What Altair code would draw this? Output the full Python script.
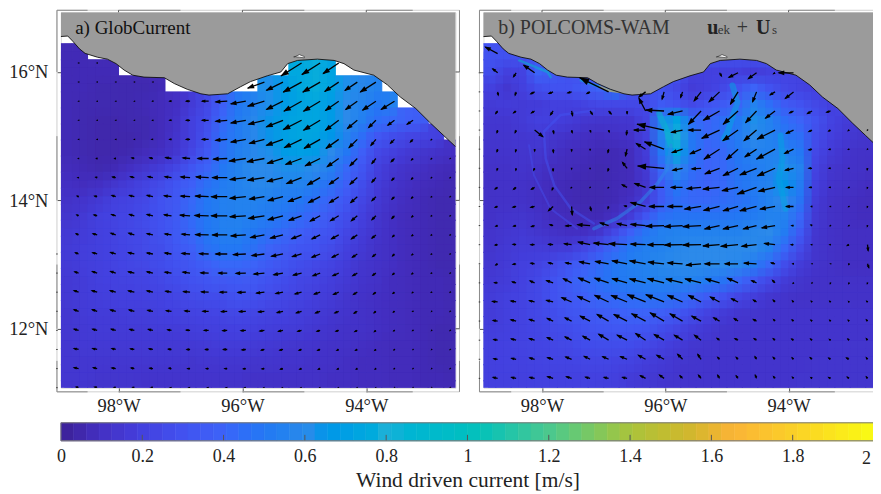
import math
import altair as alt
import pandas as pd

N = None
FONT = "Liberation Serif"
CB_TICKS = [0, .2, .4, .6, .8, 1, 1.2, 1.4, 1.6, 1.8, 2]
CB_STOPS = [0, .1, .2, .3, .4, .6, .8, 1, 1.2, 1.4, 1.55, 1.65, 1.8, 2]
CB_COLORS = ["#3b2196", "#4430c4", "#4340de", "#4252f0", "#3d63f8", "#2c8aea", "#1cb0d8", "#05bfc0", "#4bc88e", "#a9c33c", "#d2b72e", "#fab337", "#fad028", "#f8fb14"]

COAST_LON = [-98.96, -98.82, -98.74, -98.63, -98.54, -98.34, -98.18, -98.04, -97.91, -97.77, -97.59, -97.26, -97.10, -96.89, -96.67, -96.54, -96.24, -96.03, -95.87, -95.60, -95.38, -95.27, -95.11, -94.79, -94.52, -94.36, -94.20, -93.88, -93.66, -93.45, -93.20, -92.96, -92.75, -92.54]
COAST_LAT = [16.55, 16.56, 16.48, 16.36, 16.29, 16.23, 16.20, 16.13, 16.03, 15.95, 15.92, 15.91, 15.82, 15.73, 15.66, 15.64, 15.66, 15.77, 15.85, 15.94, 16.00, 16.13, 16.18, 16.20, 16.18, 16.13, 16.03, 15.95, 15.80, 15.61, 15.43, 15.20, 15.01, 14.82]

HEAT_A = [
[.07,.07,N,N,N,N,N,N,N,N,N,N,N,N,N,N,N,N,N,N,N,N,N,N,N,N],
[.07,.07,.07,.07,N,N,N,N,N,N,N,N,N,N,N,.75,.78,.72,N,N,N,N,N,N,N,N],
[.07,.07,.06,.06,.06,.06,.07,N,N,N,N,N,N,.62,.68,.75,.78,.72,.62,.58,.55,N,N,N,N,N],
[.07,.06,.06,.06,.06,.07,.08,.1,.17,.25,.38,.5,.55,.62,.68,.72,.74,.68,.6,.55,.5,.55,N,N,N,N],
[.07,.06,.05,.05,.06,.06,.08,.12,.2,.28,.42,.52,.58,.64,.7,.74,.74,.68,.6,.54,.45,.42,.38,.36,N,N],
[.07,.06,.05,.05,.05,.06,.08,.13,.2,.3,.45,.52,.58,.64,.7,.74,.72,.66,.56,.45,.33,.28,.24,.22,.2,N],
[.07,.06,.05,.05,.06,.08,.1,.15,.24,.34,.46,.54,.58,.62,.68,.7,.68,.6,.5,.38,.25,.2,.16,.14,.12,.1],
[.08,.07,.06,.07,.1,.14,.18,.24,.32,.4,.5,.56,.6,.6,.62,.62,.6,.54,.42,.32,.2,.15,.12,.1,.08,.07],
[.1,.09,.1,.14,.18,.22,.26,.32,.38,.46,.52,.56,.58,.58,.56,.56,.52,.46,.38,.28,.18,.13,.1,.08,.07,.06],
[.12,.13,.16,.2,.22,.25,.3,.34,.42,.5,.54,.56,.56,.54,.52,.5,.45,.4,.32,.24,.16,.11,.09,.07,.06,.06],
[.14,.16,.2,.22,.24,.27,.3,.35,.44,.5,.54,.56,.54,.52,.48,.44,.4,.34,.28,.2,.14,.1,.08,.07,.06,.06],
[.16,.18,.2,.22,.25,.26,.3,.35,.42,.5,.54,.54,.5,.46,.42,.38,.33,.3,.24,.18,.13,.1,.08,.07,.06,.06],
[.17,.19,.2,.22,.24,.26,.28,.33,.38,.46,.5,.5,.46,.4,.36,.32,.3,.26,.2,.16,.12,.1,.08,.07,.06,.06],
[.17,.19,.2,.22,.24,.25,.27,.3,.33,.38,.42,.42,.4,.35,.31,.28,.25,.22,.18,.14,.12,.1,.08,.07,.06,.06],
[.16,.18,.2,.21,.22,.23,.25,.27,.3,.32,.34,.35,.34,.3,.27,.24,.22,.19,.16,.13,.11,.09,.08,.07,.07,.06],
[.16,.18,.19,.2,.2,.21,.22,.24,.26,.27,.28,.3,.29,.26,.24,.22,.19,.17,.14,.12,.1,.09,.08,.07,.07,.06],
[.15,.17,.18,.18,.19,.19,.2,.21,.22,.23,.24,.25,.24,.22,.21,.19,.17,.15,.13,.11,.1,.09,.08,.07,.07,.06],
[.15,.16,.17,.17,.17,.17,.18,.18,.19,.2,.2,.21,.2,.19,.18,.17,.15,.13,.12,.11,.1,.09,.08,.07,.06,.06],
[.15,.16,.16,.16,.16,.16,.16,.16,.16,.17,.18,.18,.17,.16,.15,.14,.13,.12,.11,.1,.09,.08,.08,.07,.06,.06],
[.15,.15,.15,.15,.15,.15,.15,.15,.14,.15,.15,.15,.14,.14,.13,.13,.12,.11,.1,.09,.09,.08,.08,.07,.06,.06],
[.15,.15,.14,.14,.14,.13,.13,.13,.13,.13,.13,.13,.12,.12,.12,.11,.11,.1,.1,.09,.09,.08,.08,.07,.07,.06],
[.14,.14,.13,.13,.13,.12,.12,.12,.12,.12,.11,.11,.11,.11,.1,.1,.1,.09,.09,.09,.08,.08,.08,.07,.07,.07],
]

HEAT_B = [
[.3,.3,.3,.3,.3,.3,.3,.3,.3,.3,.3,.3,.3,.3,.3,.3,.3,.3,.3,.3,.3,.3,.3,.3,.3,.3],
[.28,.2,.22,.4,.35,.3,.3,.3,.3,.3,.3,.3,.3,.2,.2,.2,.2,.18,.2,.22,.22,.25,.3,.3,.3,.3],
[.2,.15,.2,.28,.3,.3,.35,.4,.5,.3,.3,.3,.25,.18,.2,.25,.3,.4,.3,.25,.22,.2,.22,.3,.3,.3],
[.17,.18,.17,.18,.2,.2,.22,.25,.25,.25,.25,.35,.3,.25,.3,.35,.4,.55,.45,.35,.3,.25,.2,.25,.3,.3],
[.15,.15,.17,.2,.2,.18,.15,.14,.14,.15,.22,.55,.72,.45,.4,.45,.5,.62,.55,.45,.4,.3,.22,.18,.16,.16],
[.14,.14,.15,.16,.14,.12,.1,.09,.1,.12,.2,.55,.8,.5,.42,.45,.52,.6,.55,.5,.45,.28,.2,.16,.14,.13],
[.13,.13,.14,.14,.11,.09,.08,.07,.07,.09,.18,.5,.75,.5,.4,.42,.5,.55,.55,.55,.5,.25,.17,.13,.12,.11],
[.12,.12,.13,.12,.09,.08,.07,.06,.07,.08,.16,.42,.6,.45,.4,.42,.48,.52,.55,.62,.55,.22,.14,.12,.11,.1],
[.11,.12,.12,.1,.08,.07,.06,.06,.07,.08,.14,.35,.5,.42,.4,.42,.48,.52,.55,.65,.52,.2,.13,.11,.1,.09],
[.11,.12,.12,.1,.08,.07,.06,.06,.07,.1,.18,.35,.45,.42,.42,.44,.46,.5,.55,.6,.48,.18,.12,.1,.09,.08],
[.12,.13,.14,.12,.09,.08,.07,.07,.1,.18,.32,.45,.48,.48,.48,.48,.5,.52,.56,.55,.42,.16,.11,.1,.09,.09],
[.13,.15,.16,.14,.12,.1,.1,.14,.25,.38,.48,.54,.56,.55,.55,.56,.56,.58,.6,.52,.35,.15,.11,.1,.1,.1],
[.14,.16,.18,.18,.17,.18,.24,.32,.42,.5,.54,.56,.58,.6,.6,.6,.6,.6,.55,.42,.26,.14,.11,.1,.1,.1],
[.15,.17,.2,.22,.26,.32,.38,.44,.5,.54,.56,.58,.6,.6,.6,.6,.58,.52,.42,.28,.18,.13,.11,.1,.1,.1],
[.16,.18,.21,.25,.3,.36,.42,.46,.5,.52,.54,.55,.56,.55,.52,.48,.42,.34,.25,.18,.14,.12,.11,.11,.11,.11],
[.18,.2,.22,.25,.3,.34,.38,.42,.44,.46,.48,.48,.46,.42,.36,.3,.24,.19,.15,.13,.12,.12,.12,.12,.12,.12],
[.18,.2,.22,.25,.28,.31,.34,.36,.38,.4,.4,.38,.34,.28,.22,.18,.15,.14,.13,.13,.13,.13,.13,.13,.13,.13],
[.19,.2,.22,.24,.26,.28,.3,.32,.33,.33,.32,.28,.24,.19,.16,.14,.13,.13,.13,.13,.13,.13,.13,.13,.13,.13],
[.2,.21,.22,.23,.24,.25,.27,.28,.28,.27,.25,.21,.18,.15,.14,.13,.13,.13,.13,.13,.13,.13,.14,.14,.14,.14],
[.2,.21,.21,.22,.23,.23,.24,.24,.23,.22,.19,.17,.15,.14,.13,.13,.13,.13,.13,.13,.13,.14,.14,.14,.14,.14],
[.2,.2,.2,.21,.21,.21,.21,.21,.2,.18,.16,.15,.14,.13,.13,.13,.13,.13,.13,.13,.14,.14,.14,.14,.14,.14],
[.2,.2,.2,.2,.2,.2,.2,.19,.18,.16,.15,.14,.13,.13,.13,.13,.13,.13,.13,.13,.14,.14,.14,.14,.14,.14],
]

ARROW_A = [
[(-1,0),(-1,0),N,N,N,N,N,N,N,N,N,N,(-62,-39),(-55,-35),(-47,-32),N,N,N,N,N,N],
[(-1,0),(-1,0),(-1,0),(-1,0),(-1,0),N,N,N,N,N,(-50,-18),(-50,-25),(-55,-30),(-52,-30),(-42,-28),(-37,-25),(-47,-30),N,N,N,N],
[(-1,0),(-1,0),(-1,0),(-1,0),(-2,0),(-6,0),(-12,0),(-20,0),(-35,-2),(-45,-8),(-50,-15),(-50,-25),(-53,-30),(-50,-30),(-40,-28),(-35,-25),(-40,-27),(-40,-25),N,N,N],
[(-1,0),(-1,0),(-1,0),(-1,0),(-2,0),(-6,0),(-12,0),(-20,0),(-35,-3),(-45,-8),(-48,-12),(-50,-20),(-55,-28),(-50,-30),(-40,-30),(-30,-25),(-22,-22),(-20,-15),(-18,-12),N,N],
[(-1,0),(-1,0),(-1,0),(-1,0),(-4,0),(-6,0),(-12,0),(-20,0),(-35,-3),(-45,-8),(-45,-12),(-50,-18),(-52,-25),(-48,-27),(-38,-27),(-25,-25),(-15,-18),(-12,-12),(-8,-8),(-2,-2),N],
[(-2,0),(-3,0),(-4,0),(-8,2),(-10,2),(-18,3),(-22,2),(-33,0),(-42,-2),(-50,-8),(-52,-10),(-47,-15),(-48,-18),(-45,-22),(-35,-25),(-22,-22),(-12,-15),(-10,-10),(-5,-5),(-2,-2),(-1,-1)],
[(-3,0),(-5,1),(-10,2),(-12,3),(-15,3),(-20,3),(-28,2),(-38,2),(-45,0),(-48,-6),(-50,-8),(-48,-12),(-45,-18),(-38,-22),(-28,-20),(-22,-20),(-12,-14),(-8,-8),(-5,-5),(-2,-1),(-1,-1)],
[(-5,2),(-8,2),(-12,4),(-15,4),(-18,4),(-22,3),(-28,2),(-40,2),(-48,0),(-48,-5),(-45,-7),(-45,-12),(-40,-15),(-35,-18),(-28,-18),(-20,-18),(-12,-12),(-8,-8),(-5,-5),(-2,-1),(-1,-1)],
[(-6,3),(-10,3),(-13,4),(-15,4),(-18,4),(-22,3),(-30,2),(-42,1),(-48,0),(-48,-3),(-48,-8),(-45,-12),(-38,-14),(-30,-16),(-25,-15),(-18,-15),(-12,-12),(-8,-8),(-4,-4),(-2,-1),(-1,-1)],
[(-8,4),(-13,4),(-15,5),(-17,5),(-18,4),(-20,3),(-25,2),(-40,1),(-45,0),(-45,-3),(-42,-8),(-38,-10),(-30,-12),(-25,-12),(-22,-12),(-18,-12),(-12,-10),(-6,-6),(-4,-3),(-2,-1),(-1,-1)],
[(-10,4),(-14,4),(-16,5),(-18,4),(-18,3),(-20,3),(-25,2),(-28,1),(-35,0),(-38,-2),(-38,-5),(-35,-7),(-28,-8),(-25,-10),(-20,-10),(-15,-10),(-10,-8),(-6,-6),(-4,-3),(-2,-1),(-1,-1)],
[(-12,4),(-15,5),(-16,5),(-18,4),(-18,4),(-20,3),(-22,3),(-24,1),(-26,0),(-30,-1),(-32,-3),(-28,-5),(-25,-6),(-22,-8),(-18,-8),(-14,-8),(-10,-7),(-6,-5),(-4,-3),(-2,-1),(-1,-1)],
[(-14,5),(-16,5),(-17,5),(-18,4),(-18,4),(-18,3),(-20,2),(-22,1),(-22,0),(-24,-1),(-24,-3),(-22,-4),(-20,-5),(-18,-6),(-16,-7),(-12,-7),(-8,-6),(-5,-4),(-3,-2),(-2,-1),(-1,-1)],
[(-14,5),(-15,5),(-16,4),(-16,4),(-16,3),(-16,2),(-16,1),(-18,0),(-18,-1),(-20,-1),(-18,-2),(-18,-4),(-16,-5),(-14,-5),(-12,-5),(-10,-6),(-6,-5),(-4,-3),(-2,-1),(-1,-1),(-1,-1)],
[(-14,4),(-14,4),(-14,4),(-14,3),(-14,3),(-12,2),(-12,1),(-14,0),(-14,-1),(-15,-1),(-14,-2),(-14,-3),(-12,-3),(-10,-3),(-9,-3),(-8,-4),(-5,-4),(-3,-2),(-2,-1),(-1,-1),(-1,-1)],
[(-14,3),(-14,3),(-12,3),(-12,2),(-12,2),(-10,1),(-10,0),(-10,0),(-12,0),(-12,-1),(-10,-2),(-10,-2),(-8,-3),(-8,-3),(-6,-3),(-6,-3),(-4,-3),(-2,-2),(-1,-1),(-1,-1),(-1,-1)],
[(-14,3),(-12,3),(-12,2),(-10,2),(-10,1),(-8,1),(-8,0),(-8,0),(-8,0),(-8,-1),(-8,-1),(-8,-2),(-6,-2),(-6,-2),(-5,-2),(-4,-2),(-3,-2),(-2,-1),(-1,-1),(-1,-1),(-1,-1)],
[(-8,2),(-8,2),(-6,1),(-6,1),(-6,1),(-5,0),(-5,0),(-5,0),(-5,0),(-5,0),(-4,-1),(-4,-1),(-4,-1),(-3,-1),(-3,-1),(-2,-1),(-2,-1),(-1,-1),(-1,-1),(-1,-1),(-1,-1)],
]

ARROW_B = [
[(-37,20),N,N,N,N,N,N,N,N,N,N,N,N,N,N,N,N,N,N,N,N],
[(-15,12),(-8,-12),(-33,23),N,N,N,N,N,N,N,N,N,(6,-10),(-28,-14),(-25,-18),(-5,-3),(-45,0),N,N,N,N],
[(2,-10),(-3,-10),(-12,-6),(-13,-5),(-12,-3),(-10,-5),(-88,43),N,(-20,-15),(-6,-22),(-6,-17),(-21,-27),(-32,-30),(-23,-37),(-12,-30),(-15,-9),(-25,-20),N,N,N,N],
[(-6,-8),(-8,-6),(-10,-6),(-8,-12),(3,-14),(7,-10),(8,-9),(0,-8),(-20,38),(-55,3),(-44,-10),(-38,-40),(-49,-28),(-45,-40),(-33,-35),(-29,-22),(-12,-6),(-14,-8),(-12,-4),N,N],
[(-2,-8),(-3,-8),(25,-20),(2,-10),(2,-8),(2,-6),(2,-6),(-2,-14),(-35,0),(-82,18),(-34,-7),(-38,0),(-54,-25),(-46,-32),(-38,-32),(-54,-27),(-22,-10),(-10,-5),(-6,-3),(-3,-2),(-1,-1)],
[(-2,-8),(-2,-8),(0,-6),(1,-10),(0,-6),(0,-3),(-2,-10),(-5,-20),(-28,17),(-59,22),(-32,-10),(-33,-14),(-47,-30),(-35,-31),(-35,-23),(-56,-30),(-27,-13),(-10,-2),(-5,-1),(-3,-1),(-1,-1)],
[(-2,-6),(-1,-6),(-3,-6),(0,-8),(0,-3),(0,-2),(-2,-8),(-14,18),(-5,2),(-80,7),(-30,-6),(-28,-2),(-44,-17),(-45,-22),(-50,-20),(-53,-23),(-25,-6),(-10,0),(-5,0),(-2,0),(-1,-5)],
[(-8,-5),(-8,-6),(-10,-6),(-3,-8),(-2,-2),(-1,-1),(-2,-2),(-15,8),(-33,12),(-43,0),(-35,0),(-43,-4),(-50,-5),(-48,-10),(-58,-20),(-50,-12),(-22,0),(-8,0),(-4,0),(-2,-1),(-1,-3)],
[(-8,-3),(-10,-2),(-12,-3),(-14,-13),(2,-25),(3,-12),(-2,-6),(-8,2),(-45,12),(-45,0),(-45,0),(-50,-8),(-48,-12),(-45,-13),(-50,-13),(-45,-8),(-22,0),(-3,0),(-2,0),(-2,-1),(-1,-3)],
[(-6,-2),(-8,-2),(-10,-3),(-10,3),(-18,-1),(-38,3),(-25,8),(-30,6),(-45,4),(-55,-2),(-55,-3),(-55,-3),(-45,-10),(-45,-10),(-40,-10),(-40,-7),(-6,0),(-4,2),(-2,-1),(-2,-1),(-1,-3)],
[(-8,-1),(-10,1),(-12,0),(-14,1),(-22,3),(-36,8),(-45,5),(-55,3),(-45,2),(-50,0),(-55,-1),(-55,-1),(-50,-4),(-52,-5),(-45,-5),(-32,4),(-8,0),(-3,0),(-3,0),(-6,-3),(2,-18)],
[(-6,-4),(-10,-2),(-12,2),(-14,3),(-18,3),(-32,6),(-40,7),(-45,9),(-48,9),(-48,5),(-45,3),(-45,-4),(-45,0),(-40,0),(-38,2),(-12,3),(-3,0),(-1,0),(-1,0),(-1,-3),(4,-12)],
[(-10,1),(-12,3),(-14,6),(-20,7),(-25,13),(-35,15),(-42,14),(-45,13),(-48,12),(-50,13),(-50,12),(-48,12),(-42,12),(-32,14),(-15,7),(-8,8),(-2,-2),(-1,-1),(-1,-3),(-1,-3),(-1,-3)],
[(-16,2),(-16,3),(-16,4),(-20,5),(-30,13),(-38,17),(-42,20),(-48,20),(-55,22),(-55,22),(-45,20),(-38,20),(-28,15),(-20,10),(-10,6),(-6,6),(-4,4),(-3,3),(-3,3),(-2,2),(-3,3)],
[(-14,2),(-16,4),(-16,5),(-18,8),(-20,10),(-30,15),(-35,20),(-40,20),(-42,22),(-42,25),(-38,22),(-28,15),(-18,10),(-12,8),(-10,5),(-5,5),(-5,4),(-4,3),(-3,3),(-3,3),(-4,4)],
[(-12,2),(-15,4),(-16,5),(-18,8),(-20,10),(-22,12),(-30,18),(-30,15),(-30,20),(-30,17),(-25,15),(-20,15),(-8,6),(-10,5),(-8,5),(-6,5),(-6,4),(-5,4),(-4,3),(-4,4),(-4,5)],
[(-12,2),(-14,3),(-15,4),(-17,5),(-18,7),(-18,9),(-18,8),(-20,8),(-22,12),(-22,12),(-15,15),(-10,15),(-6,6),(-6,6),(-5,8),(-6,6),(-5,5),(-6,5),(-6,4),(-8,4),(-4,5)],
[(-14,3),(-14,3),(-15,3),(-17,5),(-16,5),(-14,4),(-14,3),(-14,3),(-16,8),(-14,10),(-8,8),(-8,10),(-6,10),(-6,8),(-4,10),(-5,6),(-4,4),(-4,3),(-6,3),(-6,4),(-4,5)],
]

FILAMENTS = [
("c1", 1.8, 2.5, [-97.07,-96.91,-96.67], [15.77,15.71,15.68]),
("c2", .95, 2.5, [-98.37,-98.24,-97.91,-97.86], [16.18,16.13,16.0,15.92]),
("c3", .9, 2.5, [-97.37,-97.07], [15.87,15.77]),
("s1", .95, 6, [-96.10,-95.97,-95.91], [15.35,15.07,14.86]),
("s2", .6, 3.5, [-95.91,-95.97,-96.13,-96.40,-96.78,-97.16], [14.86,14.49,14.26,13.98,13.72,13.56]),
("r1", .3, 2.5, [-97.16,-97.70,-97.97,-97.94,-97.80,-97.53,-97.16], [15.40,15.33,15.07,14.65,14.23,13.87,13.64]),
("r2", .26, 2, [-98.21,-98.13,-97.86,-97.43], [14.86,14.39,13.87,13.56]),
("b1", .75, 6, [-94.91,-94.83,-94.99,-95.05], [15.79,15.53,15.07,14.96]),
("b2", .72, 6, [-94.13,-94.10,-94.16,-94.05], [15.01,14.65,14.34,13.87]),
]

W, H = 395, 376
DOM_Y = [11.08, 16.93]
color_scale = alt.Scale(domain=CB_STOPS, range=CB_COLORS, clamp=True)
color = alt.Color("v:Q", scale=color_scale, legend=None)
stroke = alt.Stroke("v:Q", scale=color_scale, legend=None)


def heat_tables(grid):
    base, east, south, diag = [], [], [], []
    for r, row in enumerate(grid):
        for c, v in enumerate(row):
            if v is None:
                continue
            lo, hi = -99 + .25 * c, -98.75 + .25 * c
            top, bot = 16.44 - .25 * r, 16.19 - .25 * r
            base.append(dict(x=lo, x2=hi, y=bot, y2=top, v=v))
            south.append(dict(x=lo, x2=hi, y=bot - .125, y2=top - .125, v=v))
            if c + 1 < len(row) and row[c + 1] is not None:
                east.append(dict(x=lo + .125, x2=hi + .125, y=bot, y2=top, v=v))
                diag.append(dict(x=lo + .125, x2=hi + .125, y=bot - .125, y2=top - .125, v=v))
    return [pd.DataFrame(t) for t in (base, east, south, diag)]


def arrow_table(grid, lon0, lat0):
    rows = []
    for r, row in enumerate(grid):
        for c, a in enumerate(row):
            if a is None:
                continue
            u, w = a
            lon = lon0 + .3 * c
            lat = lat0 - .2975 * r
            rows.append(dict(lon=lon, lat=lat, lon2=lon + u / 186, lat2=lat + w / 192.6,
                             hx=lon + .85 * u / 186, hy=lat + .85 * w / 192.6,
                             s=math.hypot(u, w), a=math.degrees(math.atan2(u, w)) % 360))
    return pd.DataFrame(rows)


def panel(grid, arrows, lon0, lat0, dom_x, labels, texts, edge_from, extra=None):
    xs = alt.Scale(domain=dom_x, nice=False, zero=False)
    ys = alt.Scale(domain=DOM_Y, nice=False, zero=False)
    xax = alt.Axis(values=[-98, -96, -94], labelExpr="abs(datum.value)+'°W'", title=None, grid=False, domain=False,
                   tickColor="#555", tickSize=4, labelFont=FONT, labelFontSize=18.5, labelColor="#222", labelPadding=5)
    yax = alt.Axis(values=[12, 14, 16], labelExpr="datum.value+'°N'", title=None, grid=False, domain=False,
                   tickColor="#555", tickSize=4, labelFont=FONT, labelFontSize=18.5, labelColor="#222",
                   labelPadding=9, labels=labels)
    X = alt.X("x:Q", scale=xs, axis=xax)
    Y = alt.Y("y:Q", scale=ys, axis=yax)
    base, east, south, diag = heat_tables(grid)
    layers = [
        alt.Chart(base).mark_rect(clip=True, strokeWidth=1).encode(x=X, x2="x2:Q", y=Y, y2="y2:Q", color=color, stroke=stroke),
        alt.Chart(east).mark_rect(clip=True, opacity=.5).encode(x=X, x2="x2:Q", y=Y, y2="y2:Q", color=color),
        alt.Chart(south).mark_rect(clip=True, opacity=.4).encode(x=X, x2="x2:Q", y=Y, y2="y2:Q", color=color),
        alt.Chart(diag).mark_rect(clip=True, opacity=.25).encode(x=X, x2="x2:Q", y=Y, y2="y2:Q", color=color),
    ]
    if extra:
        rows = []
        for fid, v, wd, lons, lats in extra:
            for i, (a, b) in enumerate(zip(lons, lats)):
                rows.append(dict(id=fid, v=v, w=wd, x=a, y=b, o=i))
        layers.append(alt.Chart(pd.DataFrame(rows)).mark_line(clip=True, opacity=.5, strokeCap="round", strokeJoin="round").encode(
            x=X, y=Y, detail="id:N", order="o:Q", color=color, strokeWidth=alt.StrokeWidth("w:Q", scale=None)))
    coast = pd.DataFrame(dict(x=COAST_LON, y=COAST_LAT, top=DOM_Y[1]))
    layers.append(alt.Chart(coast).mark_area(clip=True, color="#9b9b9b").encode(x=X, y=Y, y2="top:Q"))
    layers.append(alt.Chart(coast).mark_line(clip=True, color="#111", strokeWidth=.9).encode(x=X, y=Y))
    isle = pd.DataFrame(dict(x=[-95.17, -95.08, -95.0], y=[16.23, 16.27, 16.24], top=[16.24, 16.23, 16.22]))
    layers.append(alt.Chart(isle).mark_area(color="white", stroke="#222", strokeWidth=.6).encode(x=X, y=Y, y2="top:Q"))

    t = arrow_table(arrows, lon0, lat0)
    layers.append(alt.Chart(t).mark_rule(color="black", strokeWidth=1.3, clip=True).encode(
        x=alt.X("lon:Q", scale=xs, axis=xax), x2="lon2:Q", y=alt.Y("lat:Q", scale=ys, axis=yax), y2="lat2:Q"))
    layers.append(alt.Chart(t).mark_point(shape="M0,-1L0.7,1L-0.7,1Z", filled=True, color="black", opacity=1, clip=True).encode(
        x=alt.X("hx:Q", scale=xs, axis=xax), y=alt.Y("hy:Q", scale=ys, axis=yax),
        angle=alt.Angle("a:Q", scale=alt.Scale(domain=[0, 360], range=[0, 360])),
        size=alt.Size("s:Q", scale=alt.Scale(domain=[0, 60], range=[4, 60]), legend=None)))

    px, py = 4 / 62, 4 / 64.2
    L, R = dom_x[0] - px, dom_x[1] + px
    B, T = DOM_Y[0] - py, DOM_Y[1] + 2 / 64.2
    frame = [
        dict(x=L, x2=R, y=B, y2=B, c="#cfcfcf"), dict(x=L, x2=R, y=T, y2=T, c="#cfcfcf"),
        dict(x=L, x2=L, y=B, y2=T, c="#cfcfcf"), dict(x=R, x2=R, y=B, y2=T, c="#cfcfcf"),
    ]
    for a_, b_ in [(L, -98.5), (-98, -97), (-96, -95), (-94, -93.25)]:
        frame.append(dict(x=a_, x2=b_, y=B, y2=B, c="#8a8a8a"))
        frame.append(dict(x=a_, x2=b_, y=T, y2=T, c="#8a8a8a"))
    for a_, b_ in [(B, 11.5), (12, 13), (14, 15), (16, T)]:
        frame.append(dict(x=L, x2=L, y=a_, y2=b_, c="#8a8a8a"))
        frame.append(dict(x=R, x2=R, y=a_, y2=b_, c="#8a8a8a"))
    for v in [-98, -96, -94]:
        frame.append(dict(x=v, x2=v, y=DOM_Y[1], y2=T, c="#555"))
    for v in [12, 14, 16]:
        frame.append(dict(x=dom_x[1], x2=R, y=v, y2=v, c="#555"))
    for r in range(edge_from, len(arrows)):
        v = lat0 - .2975 * r
        frame.append(dict(x=L - .012, x2=L + .012, y=v, y2=v, c="#333"))
    layers.append(alt.Chart(pd.DataFrame(frame)).mark_rule(strokeWidth=1).encode(
        x=X, x2="x2:Q", y=Y, y2="y2:Q", color=alt.Color("c:N", scale=None)))

    for txt, lon, lat, size, weight, col in texts:
        layers.append(alt.Chart(pd.DataFrame(dict(x=[lon], y=[lat], t=[txt]))).mark_text(
            font=FONT, fontSize=size, fontWeight=weight, color=col, align="left", baseline="middle").encode(x=X, y=Y, text="t:N"))
    return alt.layer(*layers).properties(width=W, height=H)


a = panel(HEAT_A, ARROW_A, -98.645, 16.14, [-98.93, -92.56], True,
          [("a) GlobCurrent", -98.70, 16.685, 19, "normal", "#111")], 10)
b = panel(HEAT_B, ARROW_B, -98.72, 16.285, [-98.95, -92.55], False,
          [("b) POLCOMS-WAM", -98.71, 16.685, 20, "normal", "#333"),
           ("u", -95.32, 16.685, 20, "bold", "#222"), ("ek", -95.15, 16.65, 13, "normal", "#333"),
           ("+", -94.84, 16.685, 20, "normal", "#333"), ("U", -94.53, 16.685, 20, "bold", "#222"),
           ("s", -94.27, 16.65, 13, "normal", "#333")], 1, FILAMENTS)

STEPS = 64
cb = pd.DataFrame([dict(x=2 * i / STEPS, x2=2 * (i + 1) / STEPS, v=2 * (i + .5) / STEPS) for i in range(STEPS)])
cb_x = alt.X("x:Q", scale=alt.Scale(domain=[0, 2], nice=False, zero=False),
             axis=alt.Axis(values=CB_TICKS, labelExpr="datum.value==2?'':toString(round(datum.value*10)/10)", ticks=False, domain=False, grid=False,
                           labelFlush=False, labelFont=FONT, labelFontSize=18, labelColor="#222", labelPadding=7,
                           title="Wind driven current [m/s]", titleFont=FONT, titleFontSize=21.5, titleFontWeight="normal",
                           titleColor="#222", titlePadding=4))
cb_y = alt.Y("y:Q", scale=alt.Scale(domain=[0, 1], nice=False, zero=False),
             axis=alt.Axis(labels=False, ticks=False, domain=False, grid=False, title=None, minExtent=52, maxExtent=52))
cb_rects = alt.Chart(cb.assign(y=0, y2=1)).mark_rect(strokeWidth=.6).encode(x=cb_x, x2="x2:Q", y=cb_y, y2="y2:Q", color=color, stroke=stroke)
cb_ticks = alt.Chart(pd.DataFrame(dict(x=CB_TICKS[1:-1], y=0, y2=.33))).mark_rule(color="#555", strokeWidth=1).encode(x=cb_x, y=cb_y, y2="y2:Q")
cb_box = alt.Chart(pd.DataFrame(dict(x=[0], x2=[2], y=[0], y2=[1]))).mark_rect(fill=None, stroke="#777", strokeWidth=1).encode(x=cb_x, x2="x2:Q", y=cb_y, y2="y2:Q")
cb_two = alt.Chart(pd.DataFrame(dict(x=[2], y=[0], t=["2"]))).mark_text(font=FONT, fontSize=18, color="#222", align="right", baseline="middle", dx=-3, dy=18).encode(x=cb_x, y=cb_y, text="t:N")
bar = alt.layer(cb_rects, cb_ticks, cb_box, cb_two).properties(width=814, height=18)

chart = alt.vconcat(alt.hconcat(a, b, spacing=16), bar, spacing=6).properties(padding={"left": 0, "top": 0, "right": -10, "bottom": 0}).configure_view(strokeWidth=0).configure(background="white")
chart.save("out.html", embed_options={"renderer": "svg", "actions": False})
